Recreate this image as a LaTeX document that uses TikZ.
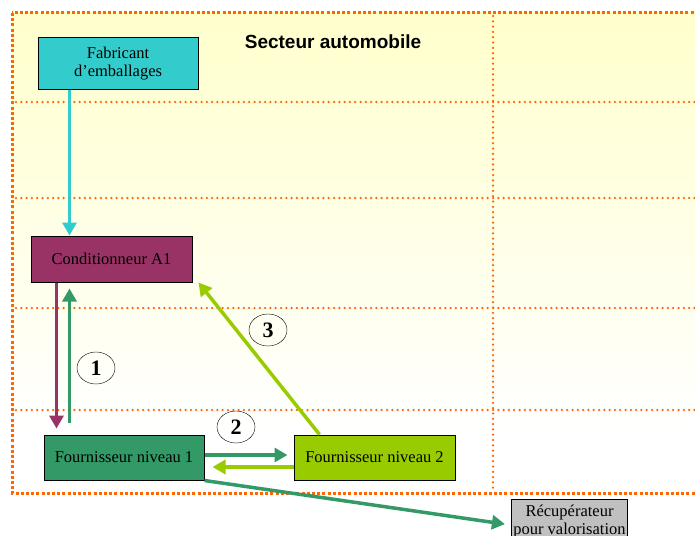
\documentclass[tikz,border=0pt]{standalone}
\usepackage{fontspec}
\setmainfont{Liberation Serif}
\newfontfamily\titlefont{Liberation Sans}
\usetikzlibrary{arrows.meta,shapes.geometric}
\definecolor{fabcyan}{HTML}{33CCCC}
\definecolor{condpurple}{HTML}{993366}
\definecolor{fourngreen}{HTML}{339966}
\definecolor{fournlime}{HTML}{99CC00}
\definecolor{recupgrey}{HTML}{C0C0C0}
\definecolor{frameorange}{HTML}{FF6600}
\definecolor{bgyellow}{HTML}{FFFFCC}
\begin{document}
\begin{tikzpicture}[x=1pt,y=-1pt,
  box/.style={draw=black,line width=1pt,minimum width=160pt,minimum height=45pt,inner sep=2pt,align=center,font=\fontsize{16.5}{18}\selectfont},
  flow/.style={line width=3.5pt,-{Triangle[length=13pt,width=14pt]}},
  num/.style={draw,ellipse,thin,minimum width=38pt,minimum height=32pt,inner sep=0pt,font=\fontsize{22}{22}\selectfont\bfseries},
  gridline/.style={frameorange,line width=2.5pt,line cap=round,dash pattern=on 0pt off 5.3pt}]
\useasboundingbox (0,0) rectangle (695,535);
\clip (0,0) rectangle (695,535);
% background and grid
\fill[white] (0,0) rectangle (695,535);
\shade[top color=bgyellow,bottom color=white] (12,13) rectangle (710,430);
\foreach \y in {102,198,308,410}
  \draw[gridline] (16,\y) -- (710,\y);
\draw[gridline] (493,16) -- (493,490);
\draw[frameorange,line width=3pt,dash pattern=on 3pt off 2.2pt] (12,13) rectangle (710,493);
\node (title) at (333,42) {\fontsize{19}{21}\selectfont\titlefont\bfseries Secteur automobile};
% actors
\node[box,fill=fabcyan,minimum height=51pt] (fab) at (118,63.5) {Fabricant\\d'emballages};
\node[box,fill=condpurple,minimum width=161pt,minimum height=46pt] (cond) at (111.5,259) {Conditionneur A1};
\node[box,fill=fourngreen] (f1) at (124,457.5) {Fournisseur niveau 1};
\node[box,fill=fournlime,minimum width=161pt] (f2) at (374.5,457.5) {Fournisseur niveau 2};
\node[box,fill=recupgrey,minimum width=115pt,minimum height=46pt] (recup) at (569.5,522) {R\'ecup\'erateur\\pour valorisation};
% flows
\draw[flow,fabcyan] ([xshift=32pt]fab.south west) -- ([xshift=39pt]cond.north west);
\draw[flow,condpurple,shorten >=6pt] ([xshift=26pt]cond.south west) -- ([xshift=13pt]f1.north west);
\draw[flow,fourngreen,shorten <=12pt,shorten >=6pt] ([xshift=26pt]f1.north west) -- ([xshift=39pt]cond.south west);
\draw[flow,fourngreen,shorten >=6pt] ([yshift=2.5pt]f1.east) -- ([yshift=2.5pt]f2.west);
\draw[flow,fournlime,shorten >=8pt] ([yshift=-9.5pt]f2.west) -- ([yshift=-9.5pt]f1.east);
\draw[flow,fournlime] ([xshift=26pt]f2.north west) -- ([xshift=6pt]cond.south east);
\draw[flow,fourngreen,shorten >=6pt] (f1.south east) -- ([yshift=-3pt]recup.west);
% numbers
\node[num] (n1) at (96,368) {1};
\node[num] (n2) at (236,427) {2};
\node[num] (n3) at (268,330) {3};
\end{tikzpicture}
\end{document}
